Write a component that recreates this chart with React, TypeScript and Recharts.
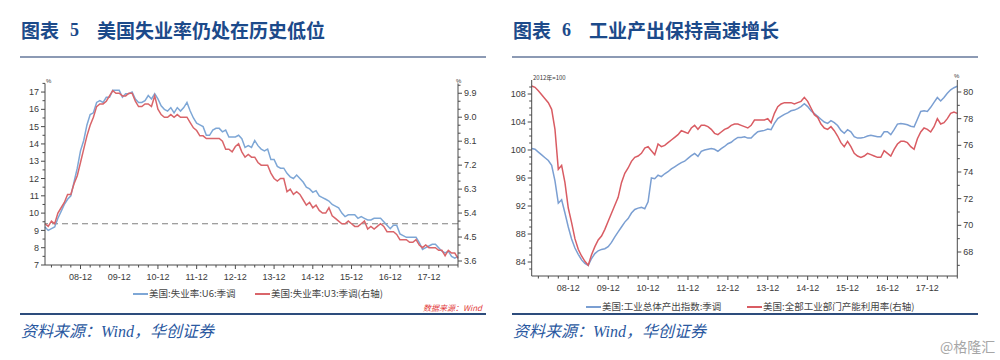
import React from "react"
import { LineChart, Line, XAxis, YAxis, ReferenceLine } from "recharts"

// month categories, yy-mm
const makeMonths = (n: number) => {
  const out: string[] = []
  for (let i = 0; i < n; i++) {
    const y = 8 + Math.floor(i / 12)
    const m = (i % 12) + 1
    out.push(`${String(y).padStart(2, "0")}-${String(m).padStart(2, "0")}`)
  }
  return out
}
const months = makeMonths(129) // 2008-01 .. 2018-09

const yearTicks = ["08-12", "09-12", "10-12", "11-12", "12-12", "13-12", "14-12", "15-12", "16-12", "17-12"]

// 美国:失业率:U6:季调 (%)
const u6 = [
  9.2, 9.0, 9.1, 9.2, 9.7, 10.1, 10.5, 10.8, 11.0, 11.8, 12.6, 13.6,
  14.2, 15.1, 15.7, 15.8, 16.4, 16.5, 16.4, 16.7, 16.7, 17.1, 17.1, 17.1,
  16.7, 16.9, 16.9, 17.0, 16.6, 16.4, 16.4, 16.5, 16.8, 16.6, 16.9, 16.6,
  16.2, 16.0, 15.9, 16.1, 15.8, 16.1, 15.9, 16.1, 16.4, 15.9, 15.5, 15.2,
  15.1, 15.0, 14.5, 14.5, 14.8, 14.9, 14.9, 14.7, 14.8, 14.4, 14.4, 14.4,
  14.5, 14.3, 13.8, 13.9, 13.8, 14.2, 13.9, 13.7, 13.6, 13.7, 13.1, 13.1,
  12.7, 12.6, 12.6, 12.3, 12.1, 12.0, 12.2, 12.0, 11.8, 11.5, 11.4, 11.2,
  11.3, 11.0, 10.9, 10.8, 10.7, 10.5, 10.4, 10.3, 10.0, 9.8, 9.9, 9.9,
  9.9, 9.7, 9.8, 9.7, 9.6, 9.6, 9.7, 9.7, 9.7, 9.5, 9.3, 9.1,
  9.3, 9.3, 8.8, 8.7, 8.6, 8.6, 8.6, 8.6, 8.3, 7.9, 8.0, 8.1,
  8.2, 8.2, 8.0, 7.8, 7.7, 7.8, 7.5, 7.4, 7.5,
]

// 美国:失业率:U3:季调 (%, right axis)
const u3 = [
  5.0, 4.9, 5.1, 5.0, 5.4, 5.6, 5.8, 6.1, 6.1, 6.5, 6.8, 7.3,
  7.8, 8.3, 8.7, 9.0, 9.4, 9.5, 9.5, 9.6, 9.8, 10.0, 9.9, 9.9,
  9.8, 9.8, 9.9, 9.9, 9.6, 9.4, 9.4, 9.5, 9.5, 9.4, 9.8, 9.3,
  9.1, 9.0, 9.0, 9.1, 9.0, 9.1, 9.0, 9.0, 9.0, 8.8, 8.6, 8.5,
  8.3, 8.3, 8.2, 8.2, 8.2, 8.2, 8.2, 8.1, 7.8, 7.8, 7.7, 7.9,
  8.0, 7.7, 7.5, 7.6, 7.5, 7.5, 7.3, 7.2, 7.2, 7.2, 6.9, 6.7,
  6.6, 6.7, 6.7, 6.2, 6.3, 6.1, 6.2, 6.1, 5.9, 5.7, 5.8, 5.6,
  5.7, 5.5, 5.4, 5.4, 5.6, 5.3, 5.2, 5.1, 5.0, 5.0, 5.1, 5.0,
  4.9, 4.9, 5.0, 5.1, 4.8, 4.9, 4.8, 4.9, 5.0, 4.9, 4.7, 4.7,
  4.7, 4.6, 4.4, 4.4, 4.4, 4.3, 4.3, 4.4, 4.2, 4.1, 4.2, 4.1,
  4.1, 4.1, 4.0, 4.0, 3.8, 4.0, 3.9, 3.9, 3.7,
]

// 美国:工业总体产出指数:季调 (2012年=100)
const ip = [
  100.2, 100.1, 99.7, 99.3, 98.9, 98.5, 97.8, 95.6, 92.4, 92.9, 91.0, 89.0,
  87.3, 86.0, 85.1, 84.3, 83.8, 83.5, 84.5, 85.2, 85.6, 85.8, 85.9, 86.2,
  86.8, 87.6, 88.3, 89.0, 89.7, 90.2, 91.0, 91.5, 91.7, 91.8, 91.6, 92.6,
  96.0, 95.9, 96.4, 96.2, 96.6, 96.9, 97.3, 97.6, 97.9, 98.2, 98.4, 98.8,
  99.2, 99.5, 99.1, 99.8, 100.0, 100.1, 100.2, 100.1, 99.8, 100.2, 100.5, 100.9,
  101.1, 101.5, 101.8, 101.8, 101.9, 101.7, 101.7, 102.2, 102.6, 102.7, 102.8, 103.0,
  102.9, 103.8, 104.5, 104.8, 105.1, 105.3, 105.6, 105.7, 105.9, 106.2, 106.6, 106.2,
  105.6, 105.2, 104.8, 104.4, 104.0, 103.8, 104.2, 103.9, 103.5, 102.8, 102.4, 102.9,
  102.6, 101.9, 101.7, 101.7, 101.8, 102.0, 102.1, 102.0, 101.9, 101.9, 102.6, 102.6,
  102.2, 102.9, 103.7, 103.8, 103.7, 103.6, 103.4, 103.3, 104.4, 105.5, 105.6, 105.5,
  106.1, 106.8, 107.5, 107.0, 107.5, 108.1, 108.6, 108.9, 109.1,
]

// 美国:全部工业部门产能利用率 (%, right axis)
const cu = [
  80.45, 80.35, 80.1, 79.8, 79.5, 79.2, 78.7, 77.2, 74.2, 74.5, 73.2, 71.3,
  70.2, 69.0, 68.2, 67.7, 67.3, 67.0, 67.8, 68.4, 68.9, 69.2, 69.7, 70.3,
  70.9, 71.5, 72.1, 73.2, 73.9, 74.3, 74.8, 75.1, 75.2, 75.4, 75.8, 75.9,
  75.6, 75.3, 76.1, 75.9, 76.0, 76.2, 76.4, 76.6, 76.8, 77.1, 77.0, 76.9,
  77.3, 77.5, 77.2, 77.5, 77.5, 77.4, 77.2, 76.9, 76.8, 77.0, 77.2, 77.3,
  77.5, 77.6, 77.6, 77.5, 77.4, 77.3, 77.5, 77.9, 77.9, 77.9, 77.9, 78.0,
  77.7, 78.4, 78.9, 79.1, 79.2, 79.2, 79.2, 79.1, 79.2, 79.3, 79.6, 79.3,
  78.8, 78.3, 78.1, 77.6, 77.3, 77.2, 77.4, 77.1, 76.7, 76.2, 75.9, 76.3,
  75.9, 75.4, 75.2, 75.1, 75.2, 75.4, 75.3, 75.2, 75.1, 75.1, 75.6, 75.4,
  75.2, 75.7, 76.1, 76.3, 76.3, 76.2, 75.9, 75.7, 76.5, 77.0, 77.3, 77.2,
  77.0, 77.4, 78.0, 77.6, 77.7, 78.0, 78.4, 78.5, 78.4,
]

// axis tick values
const u6Major = [7, 8, 9, 10, 11, 12, 13, 14, 15, 16, 17]
const u6Minor = [7.5, 8.5, 9.5, 10.5, 11.5, 12.5, 13.5, 14.5, 15.5, 16.5, 17.5]
const u3Major = [3.6, 4.5, 5.4, 6.3, 7.2, 8.1, 9.0, 9.9]
const u3Minor = [3.9, 4.2, 4.8, 5.1, 5.7, 6.0, 6.6, 6.9, 7.5, 7.8, 8.4, 8.7, 9.3, 9.6, 10.2]
const ipMajor = [84, 88, 92, 96, 100, 104, 108]
const ipMinor = [83, 85, 86, 87, 89, 90, 91, 93, 94, 95, 97, 98, 99, 101, 102, 103, 105, 106, 107, 109]
const cuMajor = [68, 70, 72, 74, 76, 78, 80]
const cuMinor = [67, 69, 71, 73, 75, 77, 79]

const u3Baseline = 5.0

const dataA = months.map((m, i) => ({ m, u6: u6[i], u3: u3[i] }))
const dataB = months.map((m, i) => ({ m, ip: ip[i], cu: cu[i] }))
const quarterTicks = months.filter((m) => ["03", "06", "09", "12"].includes(m.slice(3)))

const TS = 4
const TM = 3
const AXIS = "#4a4a4a"
const TXT = "#3a3a3a"
const CJK = '"Noto Sans CJK SC", "Noto Sans", sans-serif'
const NUM = '"Liberation Sans", Arial, sans-serif'

const BLUE_A = "#7ea7d6"
const RED_A = "#d9656a"
const BLUE_B = "#7b9fd2"
const RED_B = "#d95c63"

const isIn = (arr: number[], v: number) => arr.some((a) => Math.abs(a - v) < 1e-6)

const makeYTick = (side: "left" | "right", majors: number[], digits: number) => (props: any) => {
  const { x, y, payload } = props
  const v = payload.value
  const major = isIn(majors, v)
  const len = major ? 4 : 2.5
  if (side === "left") {
    const ax = x + TS + TM
    return (
      <g>
        <line x1={ax} x2={ax - len} y1={y} y2={y} stroke={AXIS} strokeWidth={1} />
        {major && (
          <text x={ax - 6} y={y} dy="0.35em" textAnchor="end" fontSize={9} fill={TXT} fontFamily={NUM}>
            {v.toFixed(digits)}
          </text>
        )}
      </g>
    )
  }
  const ax = x - TS - TM
  return (
    <g>
      <line x1={ax} x2={ax + len} y1={y} y2={y} stroke={AXIS} strokeWidth={1} />
      {major && (
        <text x={ax + 6} y={y} dy="0.35em" textAnchor="start" fontSize={9} fill={TXT} fontFamily={NUM}>
          {v.toFixed(digits)}
        </text>
      )}
    </g>
  )
}

const XTick = (props: any) => {
  const { x, y, payload } = props
  const ay = y - TS - TM
  const major = yearTicks.includes(payload.value)
  return (
    <g>
      <line x1={x} x2={x} y1={ay} y2={ay + (major ? 4 : 2.5)} stroke={AXIS} strokeWidth={1} />
      {major && (
        <text x={x} y={ay + 15} textAnchor="middle" fontSize={9} fill={TXT} fontFamily={NUM}>
          {payload.value}
        </text>
      )}
    </g>
  )
}

const abs = (left: number, top: number, extra: React.CSSProperties = {}): React.CSSProperties => ({
  position: "absolute",
  left,
  top,
  whiteSpace: "nowrap",
  ...extra,
})

function Header({ x, num, title }: { x: number; num: string; title: string }) {
  const base = { fontSize: 19, fontWeight: 700, color: "#1c4a8a", lineHeight: "20px" }
  return (
    <>
      <div style={abs(x, 20, { ...base, fontFamily: CJK })}>图表</div>
      <div style={abs(x + 49, 20, { ...base, fontFamily: '"Liberation Serif", serif', fontSize: 18 })}>{num}</div>
      <div style={abs(x + 76, 20, { ...base, fontFamily: CJK })}>{title}</div>
      <div style={abs(x - 1, 56, { width: 466, height: 2, background: "#8c9ab4" })} />
      <div style={abs(x - 1, 313, { width: 466, height: 1.5, background: "#2d4c7c" })} />
      <div
        style={abs(x, 320, {
          fontSize: 16,
          lineHeight: "20px",
          color: "#2a58a0",
          fontStyle: "italic",
          fontFamily: '"Liberation Serif", "Noto Sans CJK SC", serif',
        })}
      >
        <span style={{ fontFamily: CJK }}>资料来源：</span>Wind<span style={{ fontFamily: CJK }}>，华创证券</span>
      </div>
    </>
  )
}

function LegendItem({ x, y, color, label }: { x: number; y: number; color: string; label: string }) {
  return (
    <>
      <div style={abs(x, y, { width: 15, height: 1.5, background: color })} />
      <div style={abs(x + 16, y - 7, { fontSize: 9.5, lineHeight: "14px", color: "#444", fontFamily: CJK })}>{label}</div>
    </>
  )
}

export default function App() {
  return (
    <div style={{ position: "absolute", left: 0, top: 0, width: 1000, height: 360, background: "#fff", overflow: "hidden" }}>
      <Header x={21} num="5" title="美国失业率仍处在历史低位" />
      <Header x={513} num="6" title="工业产出保持高速增长" />

      {/* chart 5 */}
      <div style={abs(0, 70)}>
        <LineChart width={500} height={220} data={dataA} margin={{ top: 13.4, right: 0, left: 0, bottom: 0 }}>
          <XAxis
            dataKey="m"
            ticks={quarterTicks}
            interval={0}
            height={25}
            tickSize={TS}
            tickMargin={TM}
            tickLine={false}
            tick={XTick}
            axisLine={{ stroke: AXIS }}
          />
          <YAxis
            yAxisId="l"
            orientation="left"
            width={45}
            type="number"
            domain={[7, 17.5]}
            ticks={[...u6Major, ...u6Minor]}
            interval={0}
            tickSize={TS}
            tickMargin={TM}
            tickLine={false}
            tick={makeYTick("left", u6Major, 0)}
            axisLine={{ stroke: AXIS }}
            allowDataOverflow
          />
          <YAxis
            yAxisId="r"
            orientation="right"
            width={42}
            type="number"
            domain={[3.45, 10.27]}
            ticks={[...u3Major, ...u3Minor]}
            interval={0}
            tickSize={TS}
            tickMargin={TM}
            tickLine={false}
            tick={makeYTick("right", u3Major, 1)}
            axisLine={{ stroke: AXIS }}
            allowDataOverflow
          />
          <ReferenceLine yAxisId="r" y={u3Baseline} stroke="#808080" strokeWidth={1.2} strokeDasharray="6 4" />
          <Line yAxisId="l" dataKey="u6" stroke={BLUE_A} strokeWidth={1.5} dot={false} isAnimationActive={false} />
          <Line yAxisId="r" dataKey="u3" stroke={RED_A} strokeWidth={1.5} dot={false} isAnimationActive={false} />
        </LineChart>
      </div>
      <div style={abs(46, 78, { fontSize: 6, color: TXT, fontFamily: NUM })}>%</div>
      <div style={abs(456, 78, { fontSize: 6, color: TXT, fontFamily: NUM })}>%</div>
      <LegendItem x={133} y={293} color={BLUE_A} label="美国:失业率:U6:季调" />
      <LegendItem x={255} y={293} color={RED_A} label="美国:失业率:U3:季调(右轴)" />
      <div
        style={abs(423, 303, { fontSize: 8, lineHeight: "10px", color: "#e23a3a", fontStyle: "italic", fontFamily: CJK })}
      >
        数据来源：Wind
      </div>

      {/* chart 6 */}
      <div style={abs(500, 68)}>
        <LineChart width={500} height={230} data={dataB} margin={{ top: 12, right: 0, left: 0, bottom: 0 }}>
          <XAxis
            dataKey="m"
            ticks={quarterTicks}
            interval={0}
            height={22}
            tickSize={TS}
            tickMargin={TM}
            tickLine={false}
            tick={XTick}
            axisLine={{ stroke: AXIS }}
          />
          <YAxis
            yAxisId="l"
            orientation="left"
            width={31.7}
            type="number"
            domain={[82, 110]}
            ticks={[...ipMajor, ...ipMinor]}
            interval={0}
            tickSize={TS}
            tickMargin={TM}
            tickLine={false}
            tick={makeYTick("left", ipMajor, 0)}
            axisLine={{ stroke: AXIS }}
            allowDataOverflow
          />
          <YAxis
            yAxisId="r"
            orientation="right"
            width={42.7}
            type="number"
            domain={[66.2, 80.9]}
            ticks={[...cuMajor, ...cuMinor]}
            interval={0}
            tickSize={TS}
            tickMargin={TM}
            tickLine={false}
            tick={makeYTick("right", cuMajor, 0)}
            axisLine={{ stroke: AXIS }}
            allowDataOverflow
          />
          <Line yAxisId="l" dataKey="ip" stroke={BLUE_B} strokeWidth={1.5} dot={false} isAnimationActive={false} />
          <Line yAxisId="r" dataKey="cu" stroke={RED_B} strokeWidth={1.5} dot={false} isAnimationActive={false} />
        </LineChart>
      </div>
      <div style={abs(533, 73, { fontSize: 6, color: TXT, fontFamily: CJK })}>2012年=100</div>
      <div style={abs(954, 73, { fontSize: 6, color: TXT, fontFamily: NUM })}>%</div>
      <LegendItem x={586} y={306} color={BLUE_B} label="美国:工业总体产出指数:季调" />
      <LegendItem x={747} y={306} color={RED_B} label="美国:全部工业部门产能利用率(右轴)" />

      <div style={abs(940, 337, { fontSize: 14, lineHeight: "18px", color: "#a6a6a6", fontFamily: CJK })}>@格隆汇</div>
    </div>
  )
}
